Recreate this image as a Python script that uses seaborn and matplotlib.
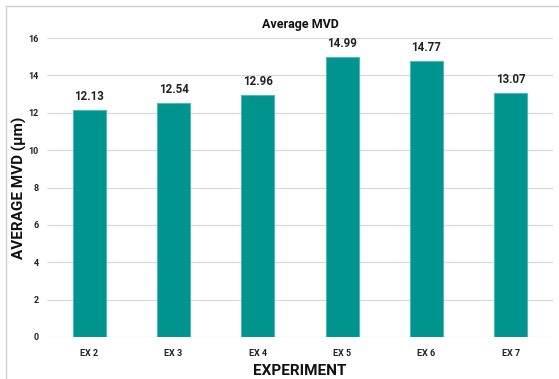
import matplotlib
matplotlib.use("Agg")
import matplotlib.pyplot as plt
from matplotlib.patches import Rectangle
import seaborn as sns
import pandas as pd

experiments = ["EX 2", "EX 3", "EX 4", "EX 5", "EX 6", "EX 7"]
avg_mvd = [12.13, 12.54, 12.96, 14.99, 14.77, 13.07]
y_ticks = [0, 2, 4, 6, 8, 10, 12, 14, 16]

df = pd.DataFrame({"experiment": experiments, "mvd": avg_mvd})

sns.set_theme(style="white")
plt.rcParams["font.family"] = ["Roboto", "DejaVu Sans"]

fig = plt.figure(figsize=(5.59, 3.79), dpi=100)
ax = fig.add_axes([47 / 559, 1 - 337 / 379, 506 / 559, 299 / 379])

teal = "#00948F"
sns.barplot(data=df, x="experiment", y="mvd", color=teal, width=0.39,
            edgecolor="#4FB8B4", linewidth=0.8, saturation=1, ax=ax, zorder=3)

for patch, val in zip(ax.patches, avg_mvd):
    ax.annotate(f"{val:.2f}", (patch.get_x() + patch.get_width() / 2, val),
                xytext=(0, 5), textcoords="offset points",
                ha="center", va="bottom", fontsize=8.3, fontweight="bold",
                color="#222222")

ax.set_ylim(0, 16)
ax.set_yticks(y_ticks)
ax.set_xlim(-0.5, len(experiments) - 0.5)
ax.yaxis.grid(True, color="#D9D9D9", linewidth=0.9, zorder=0)
ax.set_axisbelow(True)
for side in ["top", "right", "left", "bottom"]:
    ax.spines[side].set_visible(False)
ax.tick_params(axis="both", length=0, labelsize=6.5, colors="#222222")
ax.tick_params(axis="y", pad=6)
ax.tick_params(axis="x", pad=9)
for lbl in ax.get_xticklabels() + ax.get_yticklabels():
    lbl.set_fontweight("bold")

ax.set_title("Average MVD", fontsize=9, fontweight="bold", color="#111111", pad=7)
ax.set_xlabel("EXPERIMENT", fontsize=11, fontweight="bold", color="#111111", labelpad=4)
ax.set_ylabel("AVERAGE MVD (µm)", fontsize=11, fontweight="bold", color="#111111", labelpad=1)

# chart frame
fig.patches.append(Rectangle((6 / 559, -0.2), 1.2, 1.2 - 6 / 379,
                             transform=fig.transFigure, fill=False,
                             edgecolor="#D0D0D0", linewidth=1.0))

fig.savefig("out.png", dpi=100, facecolor="white")
